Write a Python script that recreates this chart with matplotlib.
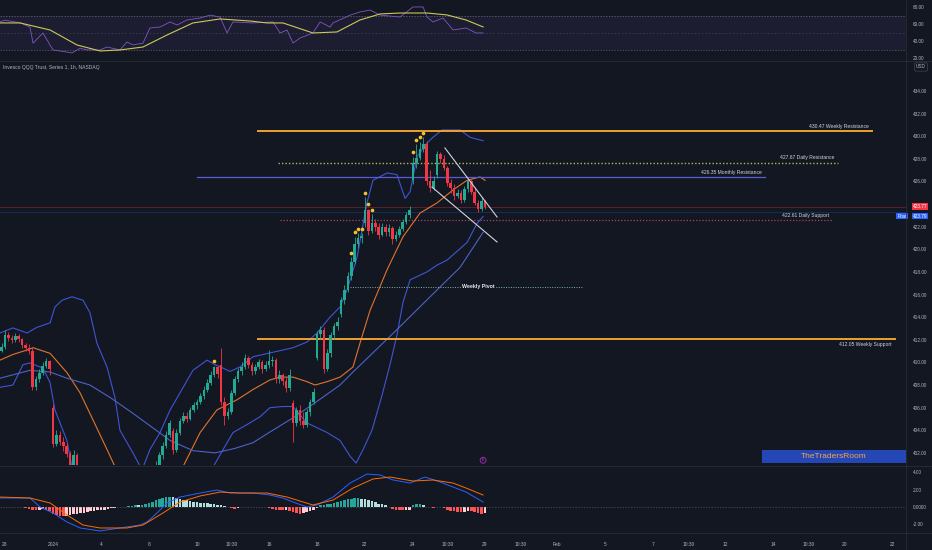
import numpy as np
import matplotlib.pyplot as plt
from matplotlib.patches import Rectangle
from matplotlib.transforms import blended_transform_factory

plt.rcParams['font.family'] = ['Liberation Sans', 'DejaVu Sans']

# QQQ 1h bars, 7 per session. first two bars = tail of Dec 27, last one = Jan 29 open
closes = [411.0, 411.4,
          412.4, 412.2, 412.0, 412.3, 412.1, 411.5, 411.3,
          411.0, 407.8, 408.5, 409.1, 409.7, 410.1, 409.4,
          402.8, 403.6, 403.0, 402.6, 401.9, 400.9, 401.8,
          400.6, 399.8, 399.2, 398.9, 399.4, 398.7, 398.9,
          398.5, 397.9, 397.2, 397.6, 396.8, 396.5, 396.3,
          396.9, 396.2, 395.8, 396.4, 396.9, 397.1, 396.6,
          398.8, 399.9, 400.9, 401.8, 402.6, 403.6, 404.6,
          402.3, 403.8, 404.8, 405.3, 405.0, 405.8, 406.2,
          406.5, 407.0, 407.6, 408.2, 408.9, 409.6, 409.0,
          406.5, 405.3, 405.6, 407.3, 408.5, 409.2, 409.6,
          410.4, 409.8, 409.2, 409.6, 410.0, 409.4, 409.8,
          410.1, 410.2, 408.5, 408.9, 408.4, 407.7, 408.9,
          404.6, 405.8, 404.8, 404.5, 405.6, 406.5, 407.4,
          412.5, 412.9, 409.4, 410.8, 412.4, 413.2, 413.6,
          415.5, 416.4, 417.6, 418.9, 420.5, 421.0, 421.2,
          423.5, 421.6, 422.3, 422.0, 421.3, 422.0, 421.5,
          421.9, 420.9, 421.3, 421.8, 422.4, 423.0, 423.5,
          427.6, 428.1, 428.9, 429.3, 426.0, 425.4, 426.0,
          428.4, 428.0, 427.2, 425.9, 425.4, 424.7, 425.0,
          424.4, 425.3, 426.0, 425.1, 424.1, 423.6, 424.3,
          423.77]
highs = [411.6, 411.7,
         412.9, 412.7, 412.4, 412.6, 412.5, 412.2, 411.7,
         411.6, 411.4, 408.8, 409.4, 410.0, 410.4, 410.2,
         406.3, 404.0, 403.9, 403.4, 402.9, 402.2, 402.3,
         402.0, 400.9, 400.1, 399.5, 399.7, 399.6, 399.2,
         399.2, 398.7, 398.1, 397.9, 397.8, 397.0, 396.8,
         397.3, 397.1, 396.5, 396.7, 397.2, 397.5, 397.3,
         399.1, 400.2, 401.3, 402.1, 403.0, 403.9, 404.9,
         404.2, 404.1, 405.1, 405.6, 405.6, 406.1, 406.5,
         406.8, 407.3, 407.9, 408.5, 409.2, 409.7, 409.7,
         411.3, 406.9, 406.0, 407.6, 408.8, 409.5, 410.0,
         410.7, 410.6, 410.0, 409.9, 410.3, 410.2, 410.1,
         411.1, 410.6, 410.4, 409.3, 409.1, 408.7, 409.4,
         406.7, 406.1, 406.2, 405.6, 405.9, 406.8, 407.7,
         412.8, 413.2, 413.1, 411.2, 412.7, 413.5, 414.0,
         415.8, 416.8, 418.0, 419.3, 421.1, 421.4, 421.4,
         424.6, 423.6, 423.1, 422.7, 422.3, 422.3, 422.2,
         422.2, 422.1, 421.6, 422.1, 422.7, 423.3, 423.8,
         428.2, 429.3, 429.5, 429.9, 429.6, 427.0, 426.5,
         428.7, 428.6, 428.3, 427.4, 426.2, 425.8, 425.3,
         425.2, 425.6, 426.3, 426.2, 425.5, 424.4, 424.6,
         424.4]
lows = [410.8, 410.9,
        411.2, 411.9, 411.7, 411.8, 411.8, 411.3, 411.0,
        410.7, 407.6, 407.6, 408.3, 408.9, 409.5, 408.9,
        402.5, 402.6, 402.7, 402.2, 401.6, 400.6, 400.7,
        400.3, 399.5, 398.9, 398.5, 398.7, 398.4, 398.5,
        398.1, 397.6, 396.9, 397.0, 396.5, 396.1, 396.0,
        396.0, 395.9, 395.4, 395.7, 396.2, 396.6, 396.3,
        397.4, 398.6, 399.7, 400.7, 401.5, 402.4, 403.4,
        401.9, 402.1, 403.6, 404.6, 404.7, 404.9, 405.6,
        405.9, 406.3, 406.8, 407.4, 408.0, 408.7, 408.6,
        406.2, 404.5, 405.0, 405.4, 407.1, 408.3, 408.9,
        409.4, 409.5, 408.9, 409.0, 409.4, 409.1, 409.2,
        409.5, 409.7, 408.2, 408.2, 408.0, 407.4, 407.5,
        403.0, 404.4, 404.5, 404.2, 404.3, 405.3, 406.3,
        410.2, 412.1, 409.1, 409.2, 410.5, 412.1, 412.9,
        414.0, 415.2, 416.2, 417.3, 418.7, 420.1, 420.6,
        422.0, 421.3, 421.4, 421.6, 420.9, 421.2, 421.2,
        421.2, 420.5, 420.7, 421.1, 421.6, 422.2, 422.8,
        425.8, 427.2, 427.9, 428.6, 425.7, 425.1, 425.2,
        426.3, 427.6, 427.0, 425.6, 425.0, 424.4, 424.5,
        424.1, 424.2, 425.1, 424.9, 423.9, 423.3, 423.4,
        423.6]
# opening gaps (bar index -> open); other bars open at the previous close
gap_opens = {0: 411.3, 16: 406.0, 44: 397.6, 51: 403.9, 65: 409.8, 86: 406.4,
             93: 410.4, 100: 414.3, 107: 422.3, 121: 426.1, 128: 426.6}
signal_bars = [63, 103, 104, 105, 106, 107, 108, 109, 121, 122, 123, 124]

macd_hist = [0.05, 0.05,
             0.05, 0.04, 0.03, 0.02, 0.0, -0.05, -0.1,
             -0.2, -0.3, -0.35, -0.3, -0.25, -0.35, -0.5,
             -0.85, -0.95, -1.0, -1.05, -1.0, -0.95, -0.85,
             -0.8, -0.7, -0.65, -0.55, -0.5, -0.45, -0.4,
             -0.35, -0.3, -0.2, -0.15, -0.1, -0.05, -0.03,
             0.05, 0.1, 0.15, 0.2, 0.18, 0.22, 0.3,
             0.45, 0.6, 0.75, 0.9, 1.0, 1.1, 1.14,
             1.1, 1.05, 0.95, 0.85, 0.75, 0.68, 0.6,
             0.55, 0.5, 0.45, 0.42, 0.35, 0.3, 0.28,
             0.2, 0.1, -0.05, -0.15, -0.2, -0.15, -0.05,
             0.02, 0.03, 0.0, -0.02, 0.02, -0.03, -0.02,
             -0.15, -0.25, -0.3, -0.35, -0.4, -0.4, -0.5,
             -0.6, -0.7, -0.75, -0.7, -0.6, -0.5, -0.3,
             -0.1, 0.2, 0.25, 0.3, 0.35, 0.45, 0.6,
             0.7, 0.8, 0.88, 0.95, 1.0, 1.03, 0.95,
             0.9, 0.8, 0.65, 0.55, 0.4, 0.3, 0.2,
             -0.05, -0.2, -0.3, -0.35, -0.38, -0.38, -0.3,
             0.25, 0.3, 0.3, 0.28, 0.05, -0.05, -0.1,
             -0.05, 0.05, -0.1, -0.35, -0.45, -0.5, -0.55,
             -0.6, -0.55, -0.45, -0.5, -0.6, -0.7, -0.75,
             -0.7]

# indicator readings, time in trading days from Dec 28
bb_up_t = [-0.21, 0.33, 0.92, 1.33, 1.88, 2.08, 2.38, 2.79, 3.25, 3.54, 3.83, 4.25, 4.58, 4.79,
           5.33, 5.71, 6.04, 6.46, 6.88, 7.29, 7.83, 8.42, 8.75, 9.08, 9.38, 9.79, 10.33, 11.17,
           12.0, 12.58, 13.0, 13.54, 13.96, 14.25, 14.67, 15.08, 15.33, 15.92, 16.33, 16.67,
           16.88, 17.17, 17.58, 17.83, 18.21, 18.96, 19.38, 19.92]
bb_up = [412.6, 413.05, 412.6, 413.1, 413.5, 414.9, 415.5, 415.8, 415.5, 414.4, 411.7, 409.6, 406.9,
         404.0, 402.0, 400.5, 402.3, 403.8, 405.8, 407.3, 409.3, 410.2, 409.8, 409.5, 409.2, 409.6,
         410.5, 410.9, 411.3, 411.8, 412.6, 414.0, 414.9, 416.4, 419.3, 424.1, 426.1, 426.75, 426.6,
         424.5, 425.1, 428.2, 429.4, 429.9, 430.55, 430.55, 429.9, 429.6]
bb_mid_t = [-0.21, 0.33, 0.92, 1.17, 1.88, 2.58, 3.13, 3.67, 4.25, 4.58, 5.4, 6.5, 7.42, 8.13,
            8.83, 9.67, 10.33, 11.04, 11.46, 12.0, 12.58, 12.92, 13.42, 13.96, 14.5, 14.79, 15.21,
            15.92, 16.58, 17.29, 18.0, 18.67, 19.25, 19.79, 20.0]
bb_mid = [410.2, 410.7, 411.1, 411.3, 410.8, 409.1, 407.3, 404.9, 402.3, 400.8, 399.0, 399.3,
          400.8, 403.8, 405.8, 406.7, 407.6, 408.45, 408.7, 408.7, 408.3, 408.0, 408.3, 408.7,
          409.6, 411.7, 414.6, 418.2, 421.1, 423.2, 424.1, 425.25, 426.1, 426.4, 426.1]
bb_low_t = [-0.21, 0.33, 0.75, 1.04, 1.58, 1.88, 2.08, 2.58, 2.79, 4.5, 7.0, 8.67, 9.25, 9.5,
            10.08, 10.63, 11.04, 11.58, 12.0, 12.58, 13.42, 13.96, 14.38, 14.63, 14.92, 15.29,
            15.71, 16.04, 16.33, 16.58, 16.88, 17.58, 18.0, 18.42, 19.25, 19.67, 19.92]
bb_low = [407.8, 408.0, 409.8, 409.95, 409.5, 408.2, 405.8, 403.1, 400.75, 393.0, 394.0, 400.75,
          402.9, 403.8, 404.5, 405.2, 406.0, 406.1, 406.1, 404.65, 403.8, 403.1, 401.7, 401.1,
          402.3, 404.0, 407.1, 409.8, 412.4, 415.3, 417.3, 418.0, 418.6, 419.05, 420.6, 422.3, 422.9]
ma_t = [-0.21, 1.04, 1.88, 2.58, 3.54, 4.38, 5.33, 6.17, 6.88, 7.83, 8.75, 9.58, 10.33, 11.04,
        12.0, 12.83, 13.96, 14.5, 16.33, 17.71, 18.96, 19.92]
ma = [408.6, 409.3, 409.15, 408.6, 408.0, 406.9, 405.5, 404.2, 403.1, 402.2, 402.0, 402.4, 402.9,
      403.85, 405.1, 406.3, 408.0, 409.15, 412.9, 415.8, 418.4, 421.5]

rsi_t = [-0.21, 0.0, 0.63, 1.04, 1.17, 1.58, 2.0, 2.58, 2.79, 3.13, 3.42, 3.96, 4.25, 4.79, 5.08,
         5.33, 5.75, 6.04, 6.46, 6.88, 7.17, 7.58, 8.13, 8.54, 8.96, 9.25, 9.5, 10.33, 11.17,
         11.46, 11.75, 12.0, 12.29, 12.83, 13.13, 13.54, 13.67, 14.38, 14.79, 15.21, 15.63,
         16.46, 17.0, 17.42, 17.58, 17.83, 18.25, 18.67, 19.21, 19.63, 19.92]
rsi = [63, 65, 62, 57, 38, 50, 30, 27.6, 26.5, 32, 30, 30, 33.5, 30, 39.4, 36, 38, 55.9, 57, 63,
       59.4, 65.3, 67.6, 71, 68.8, 50, 63, 61.8, 63, 50, 53.5, 38.2, 44, 50, 63, 57, 61.8, 71,
       74.7, 77, 71, 68.8, 80.6, 80.6, 68.8, 63, 67.6, 53.5, 55.9, 50, 50]
rsi_ma_t = [-0.21, 0.63, 1.88, 3.0, 3.96, 4.79, 5.75, 6.75, 7.83, 8.96, 10.21, 10.92, 11.58,
            12.83, 13.83, 14.79, 15.63, 16.46, 17.58, 18.42, 19.21, 19.92]
rsi_ma = [61.8, 61.8, 53.5, 35.9, 28.8, 30, 33.5, 47.6, 61.8, 66.5, 64.1, 61.8, 61.8, 50, 51.2,
          65.3, 72.4, 73.5, 73.5, 71.2, 65.3, 57.1]

macd_t = [-0.21, 1.04, 1.46, 2.0, 2.58, 3.13, 3.96, 4.79, 5.63, 5.92, 6.33, 6.75, 7.29, 8.13,
          8.83, 9.38, 10.33, 11.04, 11.58, 12.0, 12.58, 13.0, 13.67, 14.38, 15.08, 15.63, 16.17,
          16.88, 17.5, 18.13, 19.21, 19.92]
macd = [1.03, 1.03, 0, -0.69, -1.71, -2.4, -2.74, -2.4, -2.06, -1.71, -0.69, 0.46, 1.14, 1.6,
        1.94, 1.6, 1.6, 1.37, 1.03, 0.57, 0, 0.23, 1.14, 2.74, 3.77, 3.66, 3.09, 2.74, 3.43, 2.86,
        1.71, 0.57]
signal_t = [-0.21, 1.04, 1.88, 2.58, 3.25, 3.96, 5.08, 5.75, 6.58, 7.29, 8.13, 8.96, 9.79, 10.92,
            11.75, 12.83, 13.67, 14.5, 15.33, 16.04, 17.0, 17.83, 18.67, 19.21, 19.92]
signal = [1.14, 1.03, 0.46, -0.91, -2.06, -2.4, -2.4, -2.06, -0.69, 0.57, 1.26, 1.71, 1.6, 1.6,
          1.14, 0.23, 0.8, 2.17, 3.2, 3.43, 2.97, 3.09, 2.74, 2.17, 1.37]

# drawn levels
levels = [430.47, 427.67, 426.35, 422.61, 412.05]
level_names = ['Weekly Resistance', 'Daily Resistance', 'Monthly Resistance', 'Daily Support', 'Weekly Support']
level_from = [10.54, 11.38, 8.0, 11.46, 10.54]
level_to = [36.13, 34.71, 31.67, 34.5, 37.08]
pivot = 416.67
pivot_from, pivot_to = 14.38, 24.08
wedge_top = ([18.33, 20.5], [428.96, 422.86])
wedge_bottom = ([17.79, 20.5], [425.5, 420.65])
last_price, post_price = 423.77, 423.79

# price axis: 424.00 is hidden behind the last-price tag
price_ticks = [402, 404, 406, 408, 410, 412, 414, 416, 418, 420, 422, 426, 428, 430, 432, 434]

tick_days = [0, 2, 4, 6, 8, 9.46, 11, 13, 15, 17, 18.46, 20, 21.5, 23, 25, 27, 28.5, 30, 32, 33.5, 35, 37]
tick_text = ['28', '2024', '4', '8', '10', '10:30', '16', '18', '22', '24', '10:30', '29', '10:30',
             'Feb', '5', '7', '10:30', '12', '14', '10:30', '20', '22']

BG = '#131722'
TXT = '#b2b5be'
UP, DOWN = '#22ab94', '#f23645'
W, H = 932, 550
XLIM = (-0.208, 37.54)

fig = plt.figure(figsize=(9.32, 5.5), dpi=100, facecolor=BG)

def pane(top, bottom):
    a = fig.add_axes([0, 1 - bottom / H, 906 / W, (bottom - top) / H])
    a.set_facecolor(BG)
    for s in a.spines.values():
        s.set_visible(False)
    a.set_xlim(*XLIM)
    a.yaxis.tick_right()
    a.tick_params(axis='y', length=0, pad=5, labelsize=3.4, labelcolor=TXT)
    a.tick_params(axis='x', length=0)
    a.set_xticks([])
    return a

ax_rsi = pane(0, 60)
ax = pane(62, 465)
ax_macd = pane(466, 532)

# ---- RSI pane
ax_rsi.set_ylim(18.2, 88.8)
ax_rsi.axhspan(30, 70, color='#7e57c2', alpha=0.1, lw=0)
for lvl, ls in [(70, (0, (2, 2))), (30, (0, (2, 2))), (50, (0, (2, 3)))]:
    ax_rsi.axhline(lvl, color='#787b86', lw=0.5, ls=ls, alpha=0.8 if lvl != 50 else 0.45)
ax_rsi.plot(rsi_t, rsi, color='#7e57c2', lw=0.6)
ax_rsi.plot(rsi_ma_t, rsi_ma, color='#cdc85a', lw=0.8)
ax_rsi.set_yticks([80, 60, 40, 20])
ax_rsi.set_yticklabels(['80.00', '60.00', '40.00', '20.00'])

# ---- price pane
ax.set_ylim(400.93, 436.56)
n = len(closes)
t = (np.arange(n) - 2) / 7
opens = [gap_opens.get(i, closes[i - 1]) for i in range(n)]
cols = [UP if c >= o else DOWN for o, c in zip(opens, closes)]
bottoms = [min(o, c) for o, c in zip(opens, closes)]
bodies = [max(abs(c - o), 0.06) for o, c in zip(opens, closes)]
ax.vlines(t, lows, highs, colors=cols, lw=0.6, zorder=3)
ax.bar(t, bodies, bottom=bottoms, width=0.11, color=cols, lw=0, zorder=4)

ax.plot(bb_up_t, bb_up, color='#3f55d4', lw=0.8, zorder=2)
ax.plot(bb_low_t, bb_low, color='#3f55d4', lw=0.8, zorder=2)
ax.plot(bb_mid_t, bb_mid, color='#e3732c', lw=0.8, zorder=2)
ax.plot(ma_t, ma, color='#4d62c6', lw=0.8, zorder=2)

sb = np.array(signal_bars)
ax.scatter(t[sb], np.array(highs)[sb] + 0.4, s=7, color='#f2c230', lw=0, zorder=5)

styles = [dict(color='#f0a030', lw=1.4), dict(color='#b8b84e', lw=1.0, ls=(0, (1, 1.5))),
          dict(color='#5b5bd6', lw=0.9), dict(color='#b0406a', lw=0.9, ls=(0, (1, 1.5))),
          dict(color='#f0a030', lw=1.4)]
for lv, name, x0, x1, st in zip(levels, level_names, level_from, level_to, styles):
    ax.plot([x0, x1], [lv, lv], zorder=2, **st)
    below = name == 'Weekly Support'
    ax.text(x1 - 0.15, lv - 0.25 if below else lv + 0.2, f'{lv:.2f} {name}', fontsize=3.6,
            color='#d1d4dc', ha='right', va='top' if below else 'bottom', zorder=6)

ax.plot([pivot_from, pivot_to], [pivot, pivot], color='#7fb3a8', lw=0.7, ls=(0, (1, 1.5)), zorder=2)
ax.text((pivot_from + pivot_to) / 2 + 0.5, pivot, 'Weekly Pivot', fontsize=3.8, color='#e8e8ee',
        fontweight='bold', ha='center', va='center', zorder=6,
        bbox=dict(boxstyle='square,pad=0.3', fc=BG, ec='none'))

ax.plot(*wedge_top, color='#d1d4dc', lw=0.8, zorder=5)
ax.plot(*wedge_bottom, color='#d1d4dc', lw=0.8, zorder=5)

ax.axhline(last_price, color=DOWN, lw=0.5, alpha=0.45, zorder=1)
ax.axhline(post_price - 0.45, color='#2962ff', lw=0.5, alpha=0.35, zorder=1)

ax.set_yticks(price_ticks)
ax.set_yticklabels([f'{v:.2f}' for v in price_ticks])

# earnings marker
ax.scatter([t[-1] - 0.08], [401.35], s=18, facecolor='none', edgecolor='#9c27b0', lw=0.7, zorder=5)
ax.text(t[-1] - 0.08, 401.35, 'E', fontsize=2.6, color='#b05cc8', ha='center', va='center', zorder=6)

# price tags on the axis
tr = blended_transform_factory(fig.transFigure, ax.transData)
tag = dict(boxstyle='square,pad=0.2', ec='none')
ax.text(920 / W, last_price, f'{last_price:.2f}', transform=tr, fontsize=3.4, color='white',
        ha='center', va='center', clip_on=False, zorder=10, bbox=dict(fc=DOWN, **tag))
ax.text(920 / W, post_price - 0.85, f'{post_price:.2f}', transform=tr, fontsize=3.4, color='white',
        ha='center', va='center', clip_on=False, zorder=10, bbox=dict(fc='#2962ff', **tag))
ax.text(902 / W, post_price - 0.85, 'Post', transform=tr, fontsize=3.4, color='white',
        ha='center', va='center', clip_on=False, zorder=10, bbox=dict(fc='#2962ff', **tag))

# ---- MACD pane
ax_macd.set_ylim(-2.86, 4.69)
ax_macd.axhline(0, color='#787b86', lw=0.5, ls=(0, (2, 2)), alpha=0.6)
hcols = []
for i, h in enumerate(macd_hist):
    prev = macd_hist[i - 1] if i else h
    if h >= 0:
        hcols.append('#26a69a' if h >= prev else '#b2dfdb')
    else:
        hcols.append('#ff5252' if h < prev else '#ffcdd2')
ax_macd.bar(t, macd_hist, width=0.11, color=hcols, lw=0)
ax_macd.plot(macd_t, macd, color='#2962ff', lw=0.7)
ax_macd.plot(signal_t, signal, color='#ff6d00', lw=0.7)
ax_macd.set_yticks([4, 2, 0, -2])
ax_macd.set_yticklabels(['4.00', '2.00', '0.0000', '-2.00'])
ax_macd.set_xticks(tick_days)
ax_macd.set_xticklabels(tick_text)
ax_macd.tick_params(axis='x', labelsize=3.5, labelcolor=TXT, pad=7)

# pane separators and decorations
for yy in (61, 465.5, 532.5):
    fig.add_artist(plt.Line2D([0, 1], [1 - yy / H] * 2, color='#2a2e39', lw=0.6))
fig.add_artist(plt.Line2D([906 / W] * 2, [0, 1], color='#2a2e39', lw=0.5))

fig.text(3 / W, 1 - 68 / H, 'Invesco QQQ Trust, Series 1, 1h, NASDAQ', fontsize=3.6, color=TXT, va='center')
fig.text(921 / W, 1 - 67 / H, 'USD', fontsize=3.4, color=TXT, ha='center', va='center',
         bbox=dict(boxstyle='round,pad=0.35', fc=BG, ec='#434651', lw=0.5))

fig.add_artist(Rectangle((762 / W, 1 - 463 / H), 144 / W, 13 / H, transform=fig.transFigure,
                         fc='#2447b5', ec='none'))
fig.text(834 / W, 1 - 456.5 / H, 'TheTradersRoom', fontsize=6, color='#f5a54a', ha='center', va='center')

fig.savefig('out.png', dpi=100, facecolor=BG)
